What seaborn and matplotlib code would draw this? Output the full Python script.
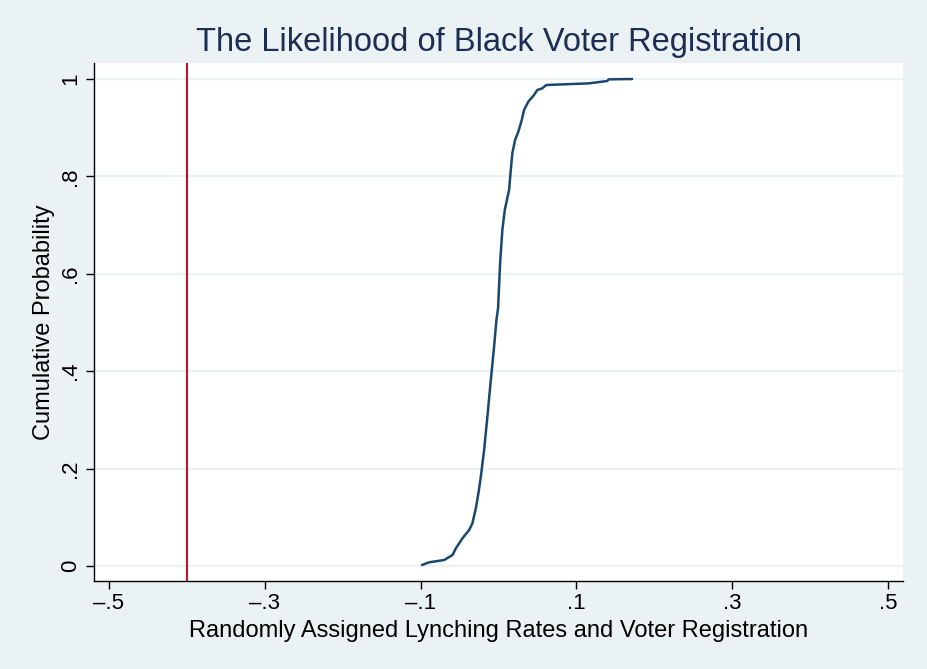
import numpy as np
import pandas as pd
import matplotlib
matplotlib.use('Agg')
import matplotlib.pyplot as plt
import seaborn as sns

# ECDF of placebo coefficients
coef = [-0.0982, -0.0889, -0.0697, -0.0590, -0.0547, -0.0463, -0.0377, -0.0335,
        -0.0291, -0.0258, -0.0227, -0.0185, -0.0143, -0.0099, -0.0057, -0.0027,
        -0.0006, 0.0020, 0.0049, 0.0080, 0.0135, 0.0157, 0.0177, 0.0212,
        0.0254, 0.0298, 0.0327, 0.0382, 0.0455, 0.0497, 0.0561, 0.0612,
        0.1159, 0.1393, 0.1415, 0.1713]
cum_prob = [0.002, 0.0076, 0.0123, 0.0226, 0.0363, 0.0569, 0.0739, 0.0877,
            0.1185, 0.1493, 0.1834, 0.2382, 0.3066, 0.3819, 0.4504, 0.5051,
            0.5292, 0.6216, 0.6900, 0.7310, 0.7721, 0.8131, 0.8473, 0.8747,
            0.8918, 0.9158, 0.9363, 0.9534, 0.9671, 0.9774, 0.9808, 0.9877,
            0.9911, 0.9959, 0.9993, 1.0]
actual_coef = -0.4

x_ticks = [-0.5, -0.3, -0.1, 0.1, 0.3, 0.5]
x_labels = ['\u2013.5', '\u2013.3', '\u2013.1', '.1', '.3', '.5']
y_ticks = [0, 0.2, 0.4, 0.6, 0.8, 1]
y_labels = ['0', '.2', '.4', '.6', '.8', '1']

df = pd.DataFrame({'coef': coef, 'cum_prob': cum_prob})

bg = '#EAF2F3'
sns.set_theme(style='white')
plt.rcParams['font.family'] = ['Liberation Sans', 'DejaVu Sans']

fig = plt.figure(figsize=(9.27, 6.69), dpi=100)
fig.set_facecolor(bg)
ax = fig.add_axes([94 / 927, 1 - 580.7 / 669, 809.3 / 927, 517.7 / 669])
ax.set_facecolor('white')

# grid lines
for yt in y_ticks:
    ax.axhline(yt, color=bg, lw=1.6, zorder=0)

ax.axvline(actual_coef, color='#C8102E', lw=1.5, zorder=2)
sns.lineplot(data=df, x='coef', y='cum_prob', sort=False, estimator=None,
             color='#1A476F', lw=1.8, ax=ax, zorder=3)

ax.set_xlim(-0.5189, 0.5192)
ax.set_ylim(-0.0302, 1.0329)
ax.set_xticks(x_ticks)
ax.set_xticklabels(x_labels)
ax.set_yticks(y_ticks)
ax.set_yticklabels(y_labels, rotation=90, va='center')
ax.tick_params(axis='both', which='major', length=6, width=1, color='black',
               labelsize=16, labelcolor='black', bottom=True, left=True, pad=3)

for side in ['top', 'right']:
    ax.spines[side].set_visible(False)
for side in ['left', 'bottom']:
    ax.spines[side].set_color('black')
    ax.spines[side].set_linewidth(1)

ax.set_xlabel('Randomly Assigned Lynching Rates and Voter Registration',
              fontsize=17, color='black', labelpad=4)
ax.set_ylabel('Cumulative Probability', fontsize=17, color='black', labelpad=4)
ax.set_title('The Likelihood of Black Voter Registration', fontsize=23.5,
             color='#1E2D53', pad=9)

fig.savefig('out.png', dpi=100, facecolor=bg)
